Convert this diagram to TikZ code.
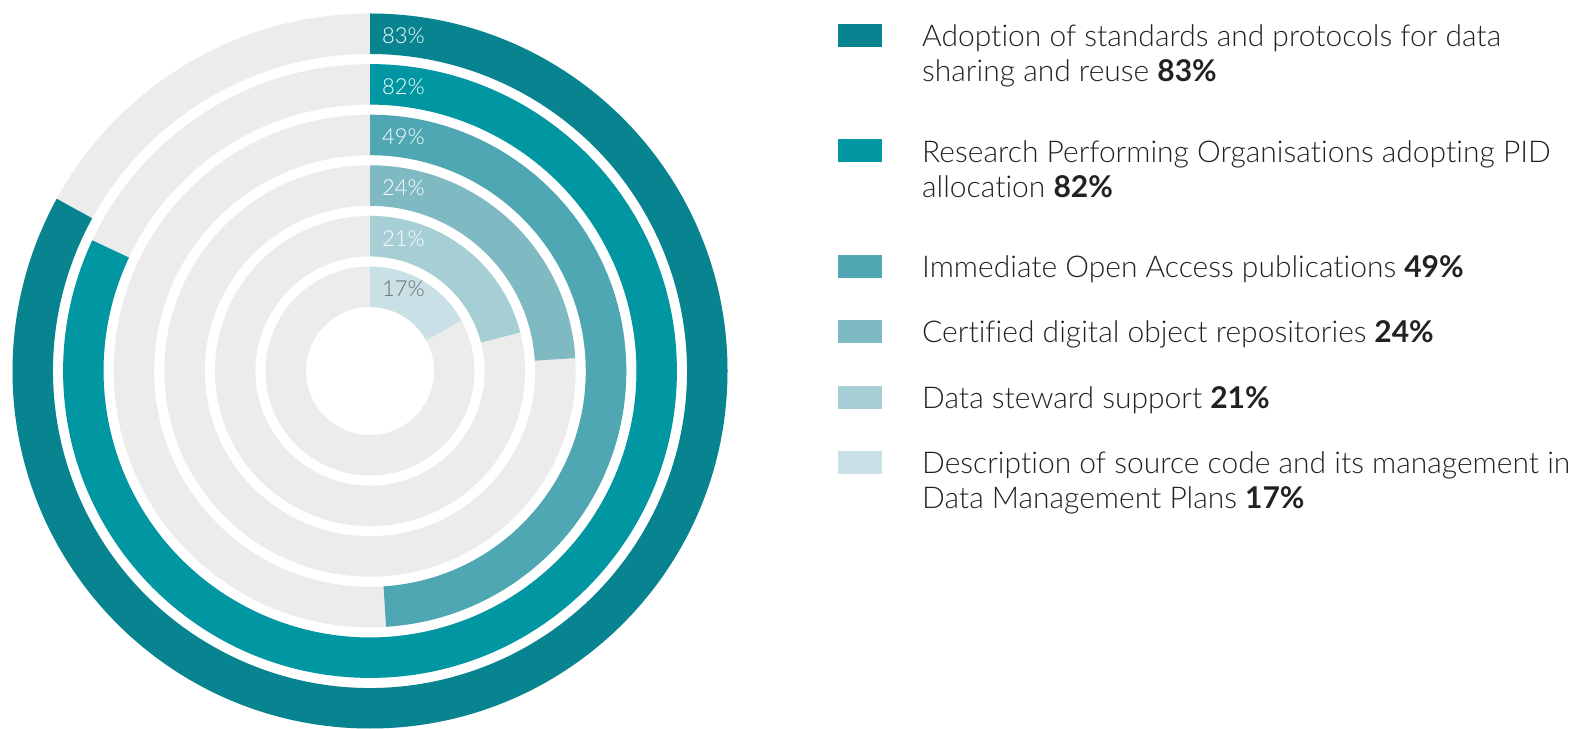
\documentclass[tikz,border=0pt]{standalone}
\usepackage{fontspec}
\setmainfont{Lato}[UprightFont=* Light, BoldFont=* Bold, Ligatures=NoCommon]
\definecolor{ring83}{HTML}{07848F}
\definecolor{ring82}{HTML}{0097A3}
\definecolor{ring49}{HTML}{4EA7B3}
\definecolor{ring24}{HTML}{7FBAC3}
\definecolor{ring21}{HTML}{A5CED5}
\definecolor{ring17}{HTML}{C9E1E6}
\definecolor{ringbg}{HTML}{ECECEC}
\definecolor{pctdark}{HTML}{6B6B6B}
\definecolor{legendtext}{HTML}{222222}
\tikzset{
	pctstyle/.style={anchor=west,inner sep=0pt,font=\fontsize{22}{25}\selectfont},
	keystyle/.style={rectangle,inner sep=0pt,minimum width=44pt,minimum height=23pt},
	legendstyle/.style={anchor=north west,inner sep=0pt,align=left,text=legendtext,font=\fontsize{30}{35}\selectfont}
}

\begin{document}
\begin{tikzpicture}[x=1pt,y=1pt]
	\useasboundingbox (0,0) rectangle (1579,728);
	\coordinate (ctr) at (370,357);
	% rings, innermost first
	\foreach \k/\p/\col/\tcol in {0/17/ring17/pctdark,1/21/ring21/white,2/24/ring24/white,3/49/ring49/white,4/82/ring82/white,5/83/ring83/white}
	{
		\pgfmathsetmacro{\rin}{64+50.6*\k}
		\pgfmathsetmacro{\rout}{\rin+40.5}
		\pgfmathsetmacro{\aend}{90-3.6*\p}
		\fill[ringbg,even odd rule] (ctr) circle[radius=\rout pt] (ctr) circle[radius=\rin pt];
		\fill[\col] ([shift={(90:\rout)}]ctr) arc[start angle=90,end angle=\aend,radius=\rout pt]
			-- ([shift={(\aend:\rin)}]ctr) arc[start angle=\aend,end angle=90,radius=\rin pt] -- cycle;
		\node[pctstyle,text=\tcol] (pct\p) at ([shift={(12,\rin+18)}]ctr) {\p\%};
	}
	% legend
	\node[keystyle,fill=ring83] (key83) at (860,692) {};
	\node[keystyle,fill=ring82] (key82) at (860,577) {};
	\node[keystyle,fill=ring49] (key49) at (860,461) {};
	\node[keystyle,fill=ring24] (key24) at (860,396) {};
	\node[keystyle,fill=ring21] (key21) at (860,330) {};
	\node[keystyle,fill=ring17] (key17) at (860,265) {};
	\node[legendstyle] (txt83) at (922,704) {Adoption of standards and protocols for data\\sharing and reuse \textbf{83\%}};
	\node[legendstyle] (txt82) at (922,588) {Research Performing Organisations adopting PID\\allocation \textbf{82\%}};
	\node[legendstyle] (txt49) at (922,473) {Immediate Open Access publications \textbf{49\%}};
	\node[legendstyle] (txt24) at (922,408) {Certified digital object repositories \textbf{24\%}};
	\node[legendstyle] (txt21) at (922,342) {Data steward support \textbf{21\%}};
	\node[legendstyle] (txt17) at (922,277) {Description of source code and its management in\\Data Management Plans \textbf{17\%}};
\end{tikzpicture}
\end{document}
